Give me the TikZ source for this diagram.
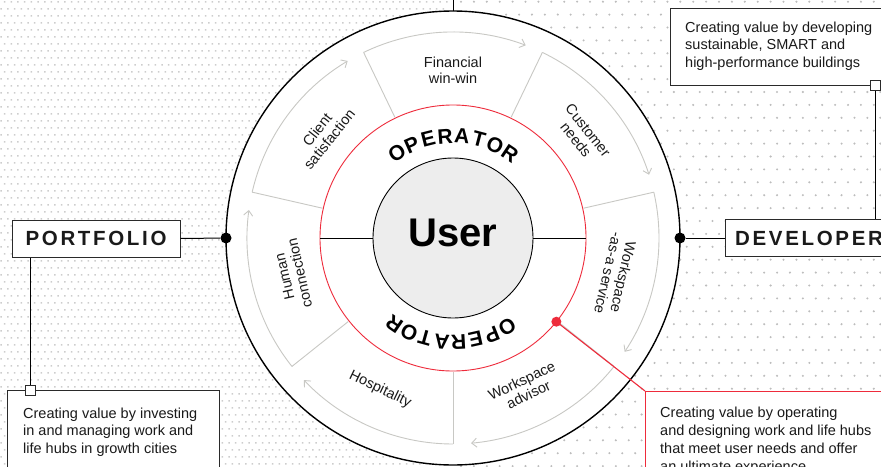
\documentclass[tikz,border=0pt]{standalone}
\usepackage{fontspec}
\setmainfont{Liberation Sans}
\usetikzlibrary{arrows.meta,calc}

\definecolor{segline}{HTML}{C8C8C4}
\definecolor{accent}{HTML}{EE2B3B}
\definecolor{dotgray}{HTML}{BDBDBD}
\definecolor{dotlight}{HTML}{CDCDCD}
\definecolor{hubfill}{HTML}{EDEDED}
\definecolor{frame}{HTML}{2A2A2A}
\definecolor{ink}{HTML}{1A1A1A}

\tikzset{
  seg/.style={draw=segline, line width=0.9pt},
  segarrow/.style={seg, -{Straight Barb[length=5pt,width=9pt]}},
  seglabel/.style={font={\fontsize{14.5}{15.5}\selectfont}, text=ink, align=center, inner sep=0pt},
  ringletter/.style={font={\fontsize{21}{21}\selectfont\bfseries}, text=black, inner sep=0pt},
  rolebox/.style={draw=frame, line width=1pt, fill=white, minimum width=168pt,
    minimum height=37pt, inner sep=0pt, text=ink,
    font={\fontsize{20.5}{20.5}\selectfont\bfseries\addfontfeature{LetterSpace=13}}},
  infobox/.style={draw=frame, line width=1pt, fill=white, anchor=north west, inner sep=0pt},
  infotext/.style={anchor=north west, align=left, inner sep=0pt, text=ink},
  pin/.style={draw=frame, line width=1pt, fill=white, minimum size=10pt, inner sep=0pt},
  joint/.style={circle, fill=black, minimum size=11pt, inner sep=0pt},
  link/.style={draw=black, line width=1pt},
}

\begin{document}
\begin{tikzpicture}[x=1pt,y=1pt]
\useasboundingbox (0,0) rectangle (881,-466);
\begin{scope}
\clip (0,0) rectangle (881,-466);

% dotted backdrop: fine staggered grid on the left half, coarse on the right
\fill[dotlight] \foreach \j in {0,...,66} { \foreach \i in {0,...,66} {
  ({3.8+6.7*\i-3.35*mod(\j,2)}, {-1.0-7*\j}) rectangle ++(1.5,-1.5) } };
\fill[dotgray] \foreach \j in {0,...,36} { \foreach \i in {0,...,33} {
  ({461+12.9*\i-6.45*mod(\j,2)}, {-1.7-12.9*\j}) circle[radius=1.15] } };

\coordinate (C) at (453,-238);
\coordinate (topend) at (453,5);

% outer ring
\node[circle, draw=black, line width=1.4pt, fill=white, minimum size=454pt,
      inner sep=0pt, outer sep=0pt] (outer) at (C) {};
\draw[link] (outer.north) -- (topend);

% cycle segments with their arrows
\foreach \k in {0,...,6} {
  \pgfmathsetmacro\s{115.714-51.4286*\k}
  \pgfmathsetmacro\e{\s-46.4}
  \draw[seg] ($(C)+(\s:134)$) -- ($(C)+(\s:206)$);
  \draw[segarrow] ($(C)+(\s:206)$) arc[start angle=\s, end angle=\e, radius=206];
}

\node[seglabel] (lfin) at ($(C)+(90:168)$) {Financial\\win-win};
\node[seglabel, rotate=-51.43] (lcus) at ($(C)+(38.57:165)$) {Customer\\needs};
\node[seglabel, rotate=-102.86] (lwaas) at ($(C)+(-12.86:167)$) {Workspace\\-as-a service};
\node[seglabel, rotate=25.71] (lwa) at ($(C)+(-64.29:166)$) {Workspace\\advisor};
\node[seglabel, rotate=-25.71] (lhosp) at ($(C)+(-115.71:168)$) {Hospitality};
\node[seglabel, rotate=102.86] (lhum) at ($(C)+(192.86:165)$) {Human\\connection};
\node[seglabel, rotate=51.43] (lcli) at ($(C)+(141.43:166)$) {Client\\satisfaction};

% operator ring
\node[circle, draw=accent, line width=0.9pt, minimum size=266pt, inner sep=0pt,
      outer sep=0pt] (ring) at (C) {};

% user hub
\node[circle, draw=black, line width=0.9pt, fill=hubfill, minimum size=160pt,
      inner sep=0pt, outer sep=0pt] (user) at (C) {};
\node[font={\fontsize{40}{40}\selectfont\bfseries}, text=black, inner sep=0pt]
      (usertext) at ($(C)+(0,5)$) {User};
\draw[line width=0.9pt] (user.west) -- (ring.west);
\draw[line width=0.9pt] (user.east) -- (ring.east);

% OPERATOR lettering around the hub, evenly tracked along the circle
\foreach \l [count=\n] in {O,P,E,R,A,T,O,R}
  \node[ringletter, rotate=123.3-9.6*(\n-1)-90] (optop\n)
    at ($(C)+({123.3-9.6*(\n-1)}:102)$) {\l};
\foreach \l [count=\n] in {O,P,E,R,A,T,O,R}
  \node[ringletter, rotate=-58.6-9.4*(\n-1)-90] (opbot\n)
    at ($(C)+({-58.6-9.4*(\n-1)}:104)$) {\l};

% role boxes
\node[joint] (ljoint) at (outer.west) {};
\node[joint] (rjoint) at (outer.east) {};
\node[rolebox] (portfolio) at (96,-238.5) {PORTFOLIO};
\node[rolebox] (developer) at (809,-238) {DEVELOPER};
\draw[link] (ljoint) -- (portfolio.east);
\draw[link] (rjoint) -- (developer.west);

% portfolio description
\node[infobox, minimum width=212pt, minimum height=100pt] (invbox) at (7,-390) {};
\node[infotext, font={\fontsize{14.5}{17.5}\selectfont}] (invtext) at (23,-407.3)
  {Creating value by investing\\in and managing work and\\life hubs in growth cities};
\node[pin] (invpin) at (30,-390) {};
\draw[link] (portfolio.south -| invpin) -- (invpin.north);

% developer description
\node[infobox, minimum width=230pt, minimum height=77pt] (devbox) at (670,-8) {};
\node[infotext, font={\fontsize{14.5}{17.5}\selectfont}] (devtext) at (685,-21.3)
  {Creating value by developing\\sustainable, SMART and\\high-performance buildings};
\node[pin] (devpin) at (875,-85) {};
\draw[link] (devpin.south) -- (devpin.south |- developer.north);

% operator description
\node[circle, fill=accent, minimum size=10pt, inner sep=0pt] (rdot) at (ring.-39) {};
\node[infobox, draw=accent, minimum width=260pt, minimum height=100pt] (opbox) at (645,-391) {};
\node[infotext, font={\fontsize{14.5}{18.2}\selectfont}] (optext) at (660,-406.6)
  {Creating value by operating\\and designing work and life hubs\\that meet user needs and offer\\an ultimate experience};
\draw[draw=accent, line width=1.1pt] (rdot.center) -- (opbox.north west);
\end{scope}
\end{tikzpicture}
\end{document}
